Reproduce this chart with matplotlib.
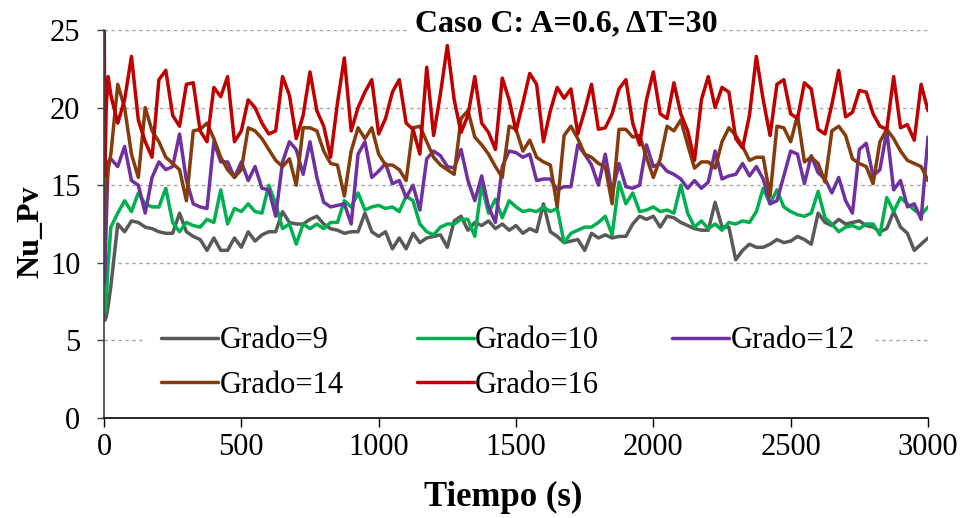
import numpy as np
import matplotlib
matplotlib.use("Agg")
import matplotlib.pyplot as plt

plt.rcParams['font.family'] = ['Liberation Serif', 'DejaVu Serif']

# Sample times (s): a few points through the start-up transient, then every 25 s
t_start = [0, 3, 8, 15]
t_main = list(np.arange(25, 3001, 25))
tiempo = t_start + t_main

grado_9 = [6.6, 6.3, 6.5, 7.2,
           8.5, 12.5, 12.0, 12.7, 12.6, 12.3, 12.2, 12.0, 11.9, 11.9, 13.2, 12.0, 11.7, 11.5, 10.8, 11.6, 10.8, 10.8, 11.6, 11.0,
           12.0, 11.4, 11.8, 12.0, 12.0, 13.3, 12.6, 12.5, 12.5, 12.8, 13.0, 12.5, 12.2, 12.1, 11.9, 12.0, 12.0, 13.2, 12.0, 11.7,
           12.0, 10.9, 11.6, 10.9, 11.9, 11.3, 11.6, 11.7, 11.8, 11.0, 12.7, 13.0, 12.1, 12.6, 12.4, 12.7, 12.2, 12.5, 12.1, 12.4,
           11.9, 12.2, 12.0, 13.8, 12.0, 11.7, 11.3, 11.4, 11.5, 10.8, 11.9, 11.6, 11.8, 11.6, 11.7, 11.7, 12.5, 13.0, 12.8, 13.0,
           12.3, 13.0, 12.9, 12.6, 12.4, 12.2, 12.1, 12.1, 13.9, 12.3, 12.3, 10.2, 10.8, 11.2, 11.0, 11.0, 11.2, 11.5, 11.3, 11.4,
           11.7, 11.5, 11.2, 13.2, 12.6, 12.4, 12.8, 12.5, 12.6, 12.7, 12.4, 12.3, 12.0, 12.2, 13.3, 12.3, 11.9, 10.8, 11.2, 11.6]

grado_10 = [30.0, 6.8, 7.5, 9.9,
            12.3, 13.2, 14.0, 13.3, 14.5, 13.8, 13.6, 13.6, 14.8, 12.6, 12.0, 12.6, 12.4, 12.3, 12.8, 12.6, 14.7, 12.5, 13.5, 13.3,
            13.8, 13.3, 13.2, 15.0, 13.8, 12.2, 12.5, 11.2, 12.5, 12.2, 12.5, 12.2, 12.6, 12.6, 14.0, 13.6, 14.5, 13.4, 13.6, 13.7,
            13.5, 13.6, 13.3, 14.3, 14.0, 12.5, 12.0, 11.8, 12.3, 12.5, 12.5, 12.8, 12.8, 11.7, 15.0, 13.2, 14.1, 12.9, 14.0, 13.6,
            13.3, 13.4, 13.3, 13.6, 13.3, 13.5, 11.3, 11.9, 12.1, 12.3, 12.3, 12.6, 13.0, 11.8, 15.2, 13.8, 14.5, 13.3, 13.4, 13.6,
            13.3, 13.4, 13.2, 15.0, 13.2, 12.3, 12.7, 12.2, 12.5, 12.1, 12.6, 12.5, 12.7, 12.6, 13.3, 14.8, 13.8, 14.7, 13.6, 13.3,
            13.1, 13.0, 13.2, 14.6, 12.9, 12.5, 12.0, 12.3, 12.4, 12.2, 12.5, 12.5, 11.8, 14.2, 13.3, 14.2, 13.8, 13.4, 13.1, 13.6]

grado_12 = [8.6, 9.0, 12.4, 16.5,
            16.7, 16.2, 17.5, 15.3, 15.0, 13.2, 15.5, 16.5, 16.0, 16.2, 18.3, 15.3, 13.8, 13.6, 13.5, 17.8, 16.5, 16.5, 15.5, 16.5,
            15.3, 16.2, 14.8, 14.7, 13.0, 16.5, 17.8, 17.3, 15.7, 17.8, 15.5, 13.9, 13.6, 13.7, 13.8, 12.5, 17.0, 17.8, 15.5, 15.9,
            16.4, 15.1, 15.3, 14.2, 15.0, 13.4, 16.7, 17.2, 16.9, 16.2, 16.1, 17.3, 15.3, 14.0, 15.6, 13.6, 12.6, 16.2, 17.2, 17.1,
            16.8, 17.0, 15.3, 15.4, 15.4, 14.7, 14.9, 14.9, 17.6, 17.0, 16.3, 15.0, 17.0, 14.5, 16.4, 14.9, 14.8, 15.0, 17.6, 16.2,
            16.4, 15.9, 15.7, 15.4, 14.8, 15.3, 14.8, 15.2, 17.2, 15.4, 15.6, 15.7, 16.4, 15.6, 16.2, 15.4, 13.8, 14.0, 15.6, 17.2,
            17.0, 15.1, 16.9, 15.8, 15.4, 14.5, 15.5, 14.0, 13.2, 17.3, 17.7, 15.6, 16.0, 18.5, 14.7, 15.3, 13.6, 13.8, 12.8, 18.1]

grado_14 = [10.7, 14.5, 14.8, 16.0,
            17.0, 21.5, 20.0, 17.0, 15.5, 20.0, 18.5, 17.8, 16.8, 16.4, 16.0, 14.0, 18.5, 18.6, 19.0, 18.0, 16.8, 16.0, 15.5, 16.0,
            18.7, 18.5, 18.0, 17.3, 16.6, 16.2, 16.7, 15.0, 18.7, 18.7, 18.5, 17.2, 16.4, 16.3, 14.3, 17.2, 18.7, 18.0, 18.7, 17.0,
            16.3, 16.3, 16.0, 15.3, 18.7, 18.8, 17.8, 16.8, 16.3, 16.0, 15.7, 19.3, 19.8, 18.1, 17.6, 17.0, 16.2, 15.5, 18.8, 18.6,
            17.2, 17.9, 16.8, 16.5, 16.3, 13.6, 18.2, 18.8, 18.0, 17.0, 16.8, 16.4, 16.2, 13.8, 18.6, 18.6, 18.1, 18.2, 16.8, 15.5,
            16.7, 18.8, 18.5, 19.2, 17.6, 16.1, 16.5, 16.5, 16.1, 17.8, 18.7, 18.2, 17.5, 16.6, 16.8, 16.8, 14.3, 18.8, 18.7, 17.8,
            19.5, 16.5, 16.8, 16.4, 15.2, 18.5, 18.8, 18.2, 16.7, 16.4, 16.2, 15.1, 17.8, 18.6, 18.0, 17.2, 16.6, 16.4, 16.2, 15.3]

grado_16 = [30.0, 15.6, 20.0, 22.0,
            20.8, 19.0, 20.5, 23.3, 19.2, 17.8, 16.8, 21.8, 22.4, 19.5, 18.8, 21.5, 21.6, 18.5, 17.8, 21.3, 20.7, 22.0, 17.8, 18.5,
            20.5, 20.0, 19.0, 18.3, 18.5, 22.0, 20.8, 18.0, 19.5, 22.3, 19.8, 18.8, 16.8, 20.3, 23.2, 18.5, 20.0, 21.0, 21.8, 18.3,
            19.3, 21.0, 21.8, 19.0, 18.6, 17.0, 22.6, 18.2, 20.9, 24.0, 20.5, 18.4, 19.5, 22.0, 19.0, 18.4, 17.3, 21.9, 20.5, 18.5,
            20.3, 22.2, 21.5, 17.8, 19.8, 21.3, 20.6, 21.2, 18.3, 19.8, 21.5, 18.6, 18.7, 19.6, 21.2, 21.8, 19.0, 17.6, 20.5, 22.3,
            19.6, 19.3, 21.6, 19.6, 18.5, 16.6, 20.5, 22.0, 20.0, 21.3, 21.0, 18.0, 17.4, 19.5, 23.3, 20.5, 18.2, 21.5, 21.8, 19.6,
            19.3, 21.6, 21.2, 18.6, 18.3, 20.2, 22.4, 19.4, 19.7, 21.1, 21.0, 19.6, 18.8, 18.6, 22.0, 18.7, 18.9, 17.9, 21.5, 19.8]

series = [
    ("Grado=9", grado_9, "#595959"),
    ("Grado=10", grado_10, "#00B050"),
    ("Grado=12", grado_12, "#7030A0"),
    ("Grado=14", grado_14, "#843C0C"),
    ("Grado=16", grado_16, "#C00000"),
]

x_ticks = [0, 500, 1000, 1500, 2000, 2500, 3000]
y_ticks = [0, 5, 10, 15, 20, 25]

fig = plt.figure(figsize=(9.65, 5.18), dpi=100)
ax = fig.add_axes([104 / 965, 1 - 418 / 518, (928 - 104) / 965, (418 - 30) / 518])

handles = []
for label, values, color in series:
    line, = ax.plot(tiempo, values, color=color, linewidth=2.5, label=label,
                    solid_joinstyle="round", solid_capstyle="round")
    handles.append(line)

ax.set_xlim(0, 3000)
ax.set_ylim(0, 25)
ax.set_xticks(x_ticks)
ax.set_yticks(y_ticks)
ax.tick_params(axis="both", labelsize=22, colors="black")
ax.tick_params(axis="x", direction="out", length=6.5, width=1.0, pad=4)
ax.tick_params(axis="y", direction="out", length=5, width=1.0, pad=12, color="#404040")

ax.yaxis.grid(True, linestyle=(0, (2.5, 2.5)), color="#A6A6A6", linewidth=1.0)
ax.set_axisbelow(True)
for side in ("top", "right"):
    ax.spines[side].set_visible(False)
ax.spines["left"].set_color("#404040")
ax.spines["left"].set_linewidth(1.2)
ax.spines["bottom"].set_color("black")
ax.spines["bottom"].set_linewidth(1.2)

# legend filled row by row: 9, 10, 12 / 14, 16
order = [0, 3, 1, 4, 2]
leg = ax.legend([handles[i] for i in order], [series[i][0] for i in order],
                loc="center", bbox_to_anchor=(508 / 965, 1 - 363 / 518),
                bbox_transform=fig.transFigure, ncol=3, fontsize=22,
                handlelength=1.85, handletextpad=0.05, columnspacing=2.4,
                labelspacing=0.5, borderpad=0.6, frameon=True, fancybox=False,
                framealpha=1.0, facecolor="white", edgecolor="none")
leg.set_zorder(2.4)

fig.text(566 / 965, 1 - 24 / 518, "Caso C: A=0.6, ΔT=30", ha="center", va="center",
         fontsize=23, fontweight="bold",
         bbox=dict(facecolor="white", edgecolor="none", pad=4))
fig.text(503 / 965, 1 - 497 / 518, "Tiempo (s)", ha="center", va="center",
         fontsize=25, fontweight="bold")
fig.text(31 / 965, 1 - 232 / 518, "Nu_Pv", ha="center", va="center",
         fontsize=23, fontweight="bold", rotation=90)

fig.savefig("out.png", dpi=100)
